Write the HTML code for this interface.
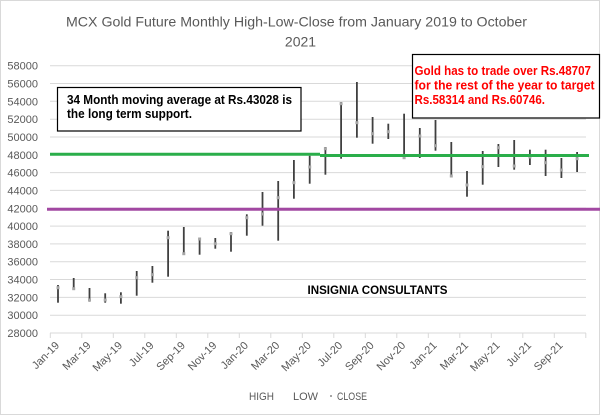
<!DOCTYPE html>
<html><head><meta charset="utf-8"><style>
html,body{margin:0;padding:0;background:#fff;}
svg{display:block;font-family:"Liberation Sans",sans-serif;}
</style></head><body>
<svg width="602" height="416" viewBox="0 0 602 416" xmlns="http://www.w3.org/2000/svg">
<rect x="0" y="0" width="602" height="416" fill="#fff"/>
<rect x="0.5" y="0.5" width="599" height="414" fill="none" stroke="#d9d9d9" stroke-width="1"/>
<!-- title -->
<g fill="#595959" font-size="14">
<text x="66" y="26.5" textLength="461" lengthAdjust="spacingAndGlyphs">MCX Gold Future  Monthly  High-Low-Close from January 2019 to October</text>
<text x="300.5" y="46.5" text-anchor="middle">2021</text>
</g>
<!-- gridlines -->
<g stroke="#d9d9d9" stroke-width="1">
<line x1="50" x2="586" y1="315.2" y2="315.2"/>
<line x1="50" x2="586" y1="297.4" y2="297.4"/>
<line x1="50" x2="586" y1="279.5" y2="279.5"/>
<line x1="50" x2="586" y1="261.7" y2="261.7"/>
<line x1="50" x2="586" y1="243.9" y2="243.9"/>
<line x1="50" x2="586" y1="226.1" y2="226.1"/>
<line x1="50" x2="586" y1="208.3" y2="208.3"/>
<line x1="50" x2="586" y1="190.4" y2="190.4"/>
<line x1="50" x2="586" y1="172.6" y2="172.6"/>
<line x1="50" x2="586" y1="154.8" y2="154.8"/>
<line x1="50" x2="586" y1="137.0" y2="137.0"/>
<line x1="50" x2="586" y1="119.2" y2="119.2"/>
<line x1="50" x2="586" y1="101.3" y2="101.3"/>
<line x1="50" x2="586" y1="83.5" y2="83.5"/>
<line x1="50" x2="586" y1="65.7" y2="65.7"/>
<line x1="50" x2="586" y1="333" y2="333"/>
</g>
<!-- ticks -->
<g stroke="#d9d9d9" stroke-width="1">
<line x1="50.3" x2="50.3" y1="333" y2="338"/>
<line x1="81.8" x2="81.8" y1="333" y2="338"/>
<line x1="113.3" x2="113.3" y1="333" y2="338"/>
<line x1="144.8" x2="144.8" y1="333" y2="338"/>
<line x1="176.3" x2="176.3" y1="333" y2="338"/>
<line x1="207.8" x2="207.8" y1="333" y2="338"/>
<line x1="239.3" x2="239.3" y1="333" y2="338"/>
<line x1="270.8" x2="270.8" y1="333" y2="338"/>
<line x1="302.3" x2="302.3" y1="333" y2="338"/>
<line x1="333.8" x2="333.8" y1="333" y2="338"/>
<line x1="365.3" x2="365.3" y1="333" y2="338"/>
<line x1="396.8" x2="396.8" y1="333" y2="338"/>
<line x1="428.3" x2="428.3" y1="333" y2="338"/>
<line x1="459.8" x2="459.8" y1="333" y2="338"/>
<line x1="491.3" x2="491.3" y1="333" y2="338"/>
<line x1="522.8" x2="522.8" y1="333" y2="338"/>
<line x1="554.3" x2="554.3" y1="333" y2="338"/>
<line x1="585.8" x2="585.8" y1="333" y2="338"/>
</g>
<!-- y labels -->
<g fill="#595959" font-size="11" text-anchor="end">
<text x="38" y="337">28000</text>
<text x="38" y="319.2">30000</text>
<text x="38" y="301.4">32000</text>
<text x="38" y="283.5">34000</text>
<text x="38" y="265.7">36000</text>
<text x="38" y="247.9">38000</text>
<text x="38" y="230.1">40000</text>
<text x="38" y="212.3">42000</text>
<text x="38" y="194.4">44000</text>
<text x="38" y="176.6">46000</text>
<text x="38" y="158.8">48000</text>
<text x="38" y="141.0">50000</text>
<text x="38" y="123.2">52000</text>
<text x="38" y="105.3">54000</text>
<text x="38" y="87.5">56000</text>
<text x="38" y="69.7">58000</text>
</g>
<!-- x labels -->
<g fill="#595959" font-size="11" text-anchor="end">
<text transform="translate(60,346) rotate(-45)">Jan-19</text>
<text transform="translate(91.5,346) rotate(-45)">Mar-19</text>
<text transform="translate(122.9,346) rotate(-45)">May-19</text>
<text transform="translate(154.4,346) rotate(-45)">Jul-19</text>
<text transform="translate(185.8,346) rotate(-45)">Sep-19</text>
<text transform="translate(217.3,346) rotate(-45)">Nov-19</text>
<text transform="translate(248.8,346) rotate(-45)">Jan-20</text>
<text transform="translate(280.2,346) rotate(-45)">Mar-20</text>
<text transform="translate(311.7,346) rotate(-45)">May-20</text>
<text transform="translate(343.1,346) rotate(-45)">Jul-20</text>
<text transform="translate(374.6,346) rotate(-45)">Sep-20</text>
<text transform="translate(406.1,346) rotate(-45)">Nov-20</text>
<text transform="translate(437.5,346) rotate(-45)">Jan-21</text>
<text transform="translate(469,346) rotate(-45)">Mar-21</text>
<text transform="translate(500.4,346) rotate(-45)">May-21</text>
<text transform="translate(531.9,346) rotate(-45)">Jul-21</text>
<text transform="translate(563.4,346) rotate(-45)">Sep-21</text>
</g>
<!-- HL bars -->
<g stroke="#404040" stroke-width="1.8">
<line x1="58.0" x2="58.0" y1="285" y2="302.7"/>
<line x1="73.7" x2="73.7" y1="278" y2="288.7"/>
<line x1="89.5" x2="89.5" y1="288" y2="301.7"/>
<line x1="105.2" x2="105.2" y1="293.3" y2="302.7"/>
<line x1="120.9" x2="120.9" y1="292.3" y2="303.7"/>
<line x1="136.7" x2="136.7" y1="271" y2="295.7"/>
<line x1="152.4" x2="152.4" y1="266" y2="282.7"/>
<line x1="168.1" x2="168.1" y1="230.7" y2="276.7"/>
<line x1="183.8" x2="183.8" y1="227" y2="253.7"/>
<line x1="199.6" x2="199.6" y1="238.7" y2="254.7"/>
<line x1="215.3" x2="215.3" y1="238" y2="248.7"/>
<line x1="231.0" x2="231.0" y1="232" y2="251.7"/>
<line x1="246.8" x2="246.8" y1="214.3" y2="235.7"/>
<line x1="262.5" x2="262.5" y1="192" y2="225.7"/>
<line x1="278.2" x2="278.2" y1="181" y2="240.7"/>
<line x1="293.9" x2="293.9" y1="160" y2="198.7"/>
<line x1="309.7" x2="309.7" y1="155.7" y2="183.7"/>
<line x1="325.4" x2="325.4" y1="147" y2="174.7"/>
<line x1="341.1" x2="341.1" y1="102" y2="158.7"/>
<line x1="356.9" x2="356.9" y1="82" y2="137.7"/>
<line x1="372.6" x2="372.6" y1="117" y2="143.7"/>
<line x1="388.3" x2="388.3" y1="123.7" y2="139"/>
<line x1="404.1" x2="404.1" y1="113.7" y2="158.7"/>
<line x1="419.8" x2="419.8" y1="128" y2="158"/>
<line x1="435.5" x2="435.5" y1="120" y2="150.7"/>
<line x1="451.3" x2="451.3" y1="142" y2="176.3"/>
<line x1="467.0" x2="467.0" y1="171" y2="196.7"/>
<line x1="482.7" x2="482.7" y1="151" y2="184.7"/>
<line x1="498.4" x2="498.4" y1="144" y2="167"/>
<line x1="514.2" x2="514.2" y1="140" y2="169.7"/>
<line x1="529.9" x2="529.9" y1="149.7" y2="165"/>
<line x1="545.6" x2="545.6" y1="149.7" y2="176"/>
<line x1="561.4" x2="561.4" y1="158" y2="178"/>
<line x1="577.1" x2="577.1" y1="152" y2="172"/>
</g>
<!-- close markers -->
<g fill="#a6a6a6">
<rect x="56.5" y="286.2" width="3" height="3"/>
<rect x="72.2" y="287.2" width="3" height="3"/>
<rect x="88" y="298.5" width="3" height="3"/>
<rect x="103.7" y="298.5" width="3" height="3"/>
<rect x="119.4" y="295.2" width="3" height="3"/>
<rect x="135.2" y="276.2" width="3" height="3"/>
<rect x="150.9" y="273.2" width="3" height="3"/>
<rect x="166.6" y="236.2" width="3" height="3"/>
<rect x="182.3" y="252.2" width="3" height="3"/>
<rect x="198.1" y="237.5" width="3" height="3"/>
<rect x="213.8" y="242.2" width="3" height="3"/>
<rect x="229.5" y="232.2" width="3" height="3"/>
<rect x="245.3" y="216.2" width="3" height="3"/>
<rect x="261" y="212.5" width="3" height="3"/>
<rect x="276.7" y="196.2" width="3" height="3"/>
<rect x="292.4" y="181.2" width="3" height="3"/>
<rect x="308.2" y="165.5" width="3" height="3"/>
<rect x="323.9" y="147.2" width="3" height="3"/>
<rect x="339.6" y="102.2" width="3" height="3"/>
<rect x="355.4" y="121.2" width="3" height="3"/>
<rect x="371.1" y="132.2" width="3" height="3"/>
<rect x="386.8" y="130.2" width="3" height="3"/>
<rect x="402.6" y="156.2" width="3" height="3"/>
<rect x="418.3" y="134.5" width="3" height="3"/>
<rect x="434" y="144.2" width="3" height="3"/>
<rect x="449.8" y="174.5" width="3" height="3"/>
<rect x="465.5" y="183.5" width="3" height="3"/>
<rect x="481.2" y="165.2" width="3" height="3"/>
<rect x="496.9" y="146.2" width="3" height="3"/>
<rect x="512.7" y="164.5" width="3" height="3"/>
<rect x="528.4" y="155.5" width="3" height="3"/>
<rect x="544.1" y="161.2" width="3" height="3"/>
<rect x="559.9" y="168.5" width="3" height="3"/>
<rect x="575.6" y="157.2" width="3" height="3"/>
</g>
<!-- support lines -->
<line x1="50" x2="320" y1="154.3" y2="154.3" stroke="#2aae4a" stroke-width="3"/>
<line x1="320" x2="589" y1="155.5" y2="155.5" stroke="#2aae4a" stroke-width="3"/>
<line x1="47" x2="600" y1="209.3" y2="209.3" stroke="#a248a2" stroke-width="3"/>
<!-- box 1 -->
<rect x="57.5" y="87.5" width="243.5" height="43.5" fill="#fff" stroke="#000" stroke-width="1.2"/>
<g font-size="12.5" font-weight="bold" fill="#000">
<text x="67" y="104" textLength="225" lengthAdjust="spacingAndGlyphs">34 Month moving average at Rs.43028 is</text>
<text x="67" y="118" textLength="125" lengthAdjust="spacingAndGlyphs">the long term support.</text>
</g>
<!-- box 2 -->
<rect x="412.5" y="54.5" width="187" height="63.5" fill="#fff" stroke="#000" stroke-width="1.2"/>
<g font-size="12.5" font-weight="bold" fill="#ff0000">
<text x="414.5" y="75" textLength="176.5" lengthAdjust="spacingAndGlyphs">Gold has to trade over Rs.48707</text>
<text x="414.5" y="89.5" textLength="180" lengthAdjust="spacingAndGlyphs">for the rest of the year to target</text>
<text x="414.5" y="104" textLength="130.5" lengthAdjust="spacingAndGlyphs">Rs.58314 and Rs.60746.</text>
</g>
<!-- watermark -->
<text x="307.5" y="294" font-size="12" font-weight="bold" fill="#000" textLength="140" lengthAdjust="spacingAndGlyphs">INSIGNIA CONSULTANTS</text>
<!-- legend -->
<g fill="#595959" font-size="11">
<text x="249" y="400" textLength="25" lengthAdjust="spacingAndGlyphs">HIGH</text>
<text x="293" y="400" textLength="25" lengthAdjust="spacingAndGlyphs">LOW</text>
<text x="337" y="400" textLength="30" lengthAdjust="spacingAndGlyphs">CLOSE</text>
</g>
<rect x="330" y="395" width="2" height="2" fill="#a6a6a6"/>
</svg>
</body></html>
